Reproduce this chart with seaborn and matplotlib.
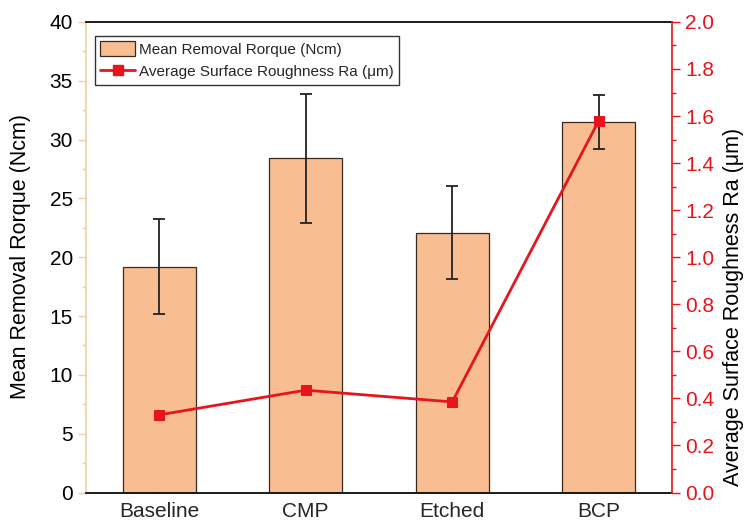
import numpy as np
import pandas as pd
import matplotlib
matplotlib.use("Agg")
import matplotlib.pyplot as plt
import seaborn as sns
from matplotlib.patches import Patch
from matplotlib.lines import Line2D
from matplotlib.ticker import MultipleLocator

categories = ["Baseline", "CMP", "Etched", "BCP"]
torque_mean = [19.2, 28.4, 22.1, 31.5]
torque_err = [4.05, 5.5, 3.95, 2.3]
roughness_ra = [0.33, 0.435, 0.385, 1.58]

sns.set_theme(style="white")
plt.rcParams["font.family"] = ["Liberation Sans", "DejaVu Sans"]

BAR = "#F8BE92"
PEACH = "#F3CFA8"
RED = "#E8141B"

fig = plt.figure(figsize=(7.45, 5.22), dpi=100)
ax = fig.add_axes([0.1154, 0.0565, 0.7866, 0.9015])

df = pd.DataFrame({"cat": categories, "torque": torque_mean})
sns.barplot(data=df, x="cat", y="torque", color=BAR, width=0.5,
            edgecolor="#3a2a20", linewidth=0.9, saturation=1, ax=ax)
ax.errorbar(np.arange(len(categories)), torque_mean, yerr=torque_err,
            fmt="none", ecolor="#222222", elinewidth=1.3, capsize=4, capthick=1.3, zorder=5)

ax.set_xlim(-0.5, 3.5)
ax.set_ylim(0, 40)
ax.yaxis.set_major_locator(MultipleLocator(5))
ax.yaxis.set_minor_locator(MultipleLocator(2.5))
ax.set_xlabel("")
ax.set_ylabel("Mean Removal Rorque (Ncm)", fontsize=15.5, color="black")
ax.yaxis.set_label_coords(-0.094, 0.502)
ax.tick_params(axis="y", which="major", direction="out", length=6, width=1,
               color=PEACH, labelcolor="black", labelsize=15, left=True)
ax.tick_params(axis="y", which="minor", direction="out", length=3, width=1,
               color=PEACH, left=True)
ax.tick_params(axis="x", which="major", direction="in", length=5, width=1,
               color="black", labelsize=15, bottom=True, pad=7)
ax.spines["left"].set_color(PEACH)
ax.spines["left"].set_linewidth(1.2)
ax.spines["bottom"].set_color("black")
ax.spines["top"].set_color("black")
ax.spines["right"].set_visible(False)

ax2 = ax.twinx()
ax2.set_position(ax.get_position())
ldf = pd.DataFrame({"x": np.arange(len(categories)), "ra": roughness_ra})
sns.lineplot(data=ldf, x="x", y="ra", color=RED, linewidth=2, marker="s",
             markersize=7, markeredgecolor=RED, ax=ax2)
ax2.set_ylim(0, 2.0)
ax2.yaxis.set_major_locator(MultipleLocator(0.2))
ax2.yaxis.set_minor_locator(MultipleLocator(0.1))
ax2.yaxis.set_major_formatter(matplotlib.ticker.FormatStrFormatter("%.1f"))
ax2.set_ylabel("Average Surface Roughness Ra (\u03bcm)", fontsize=15.5, color="black")
ax2.yaxis.set_label_coords(1.087, 0.395)
ax2.tick_params(axis="y", which="major", direction="out", length=6, width=1,
                color=RED, labelcolor=RED, labelsize=15, right=True)
ax2.tick_params(axis="y", which="minor", direction="out", length=3, width=1,
                color=RED, right=True)
for s in ["left", "top", "bottom"]:
    ax2.spines[s].set_visible(False)
ax2.spines["right"].set_visible(True)
ax2.spines["right"].set_color(RED)
ax2.spines["right"].set_linewidth(1.2)
ax2.set_xlim(-0.5, 3.5)

handles = [Patch(facecolor=BAR, edgecolor="#3a2a20", linewidth=0.9),
           Line2D([0], [0], color=RED, linewidth=2, marker="s", markersize=7)]
labels = ["Mean Removal Rorque (Ncm)", "Average Surface Roughness Ra (\u03bcm)"]
leg = ax2.legend(handles, labels, loc="upper left", bbox_to_anchor=(0.015, 0.97),
                 borderaxespad=0, fontsize=11, frameon=True, fancybox=False,
                 edgecolor="black", handlelength=2.3, handleheight=1.1,
                 handletextpad=0.25, borderpad=0.35, labelspacing=0.45)
leg.get_frame().set_linewidth(1.0)

fig.savefig("out.png", dpi=100)
